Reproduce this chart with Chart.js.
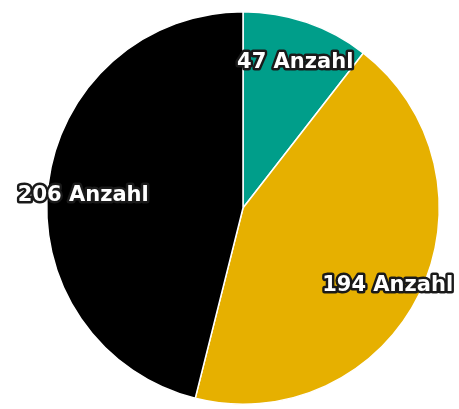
<!DOCTYPE html>
<html lang="de">
<head>
    <meta charset="UTF-8">
    <title>Anzahl</title>
    <script src="https://cdn.jsdelivr.net/npm/chart.js"></script>
    <style>
        body {
            margin: 0;
            background: #ffffff;
        }
        canvas {
            display: block;
        }
    </style>
</head>
<body>
    <canvas id="pieChart" width="459" height="409"></canvas>

    <script>
        // data
        const categories = ['A', 'B', 'C'];
        const counts = [47, 194, 206];
        const unit = 'Anzahl';
        const sliceColors = ['#009e8a', '#e6b000', '#000000'];

        // draws "<value> Anzahl" in white with a dark outline on each slice
        const sliceLabels = {
            id: 'sliceLabels',
            afterDatasetsDraw(chart) {
                const ctx = chart.ctx;
                const meta = chart.getDatasetMeta(0);
                ctx.save();
                ctx.font = 'bold 21px "DejaVu Sans", sans-serif';
                ctx.textAlign = 'center';
                ctx.textBaseline = 'middle';
                ctx.lineJoin = 'round';
                meta.data.forEach((arc, i) => {
                    const p = arc.getProps(['x', 'y', 'startAngle', 'endAngle', 'outerRadius'], true);
                    const mid = (p.startAngle + p.endAngle) / 2;
                    const d = p.outerRadius * 0.82;
                    const x = p.x + Math.cos(mid) * d;
                    const y = p.y + Math.sin(mid) * d + 7;
                    const text = counts[i] + ' ' + unit;
                    ctx.lineWidth = 5;
                    ctx.strokeStyle = '#1a1a1a';
                    ctx.strokeText(text, x, y);
                    ctx.fillStyle = '#ffffff';
                    ctx.fillText(text, x, y);
                });
                ctx.restore();
            }
        };

        const ctx = document.getElementById('pieChart').getContext('2d');
        new Chart(ctx, {
            type: 'pie',
            data: {
                labels: categories,
                datasets: [{
                    data: counts,
                    backgroundColor: sliceColors,
                    borderColor: '#ffffff',
                    borderWidth: 1.5
                }]
            },
            options: {
                responsive: false,
                animation: false,
                layout: {
                    padding: { left: 46, right: 19, top: 11, bottom: 4 }
                },
                plugins: {
                    legend: { display: false },
                    tooltip: { enabled: false }
                }
            },
            plugins: [sliceLabels]
        });
    </script>
</body>
</html>
